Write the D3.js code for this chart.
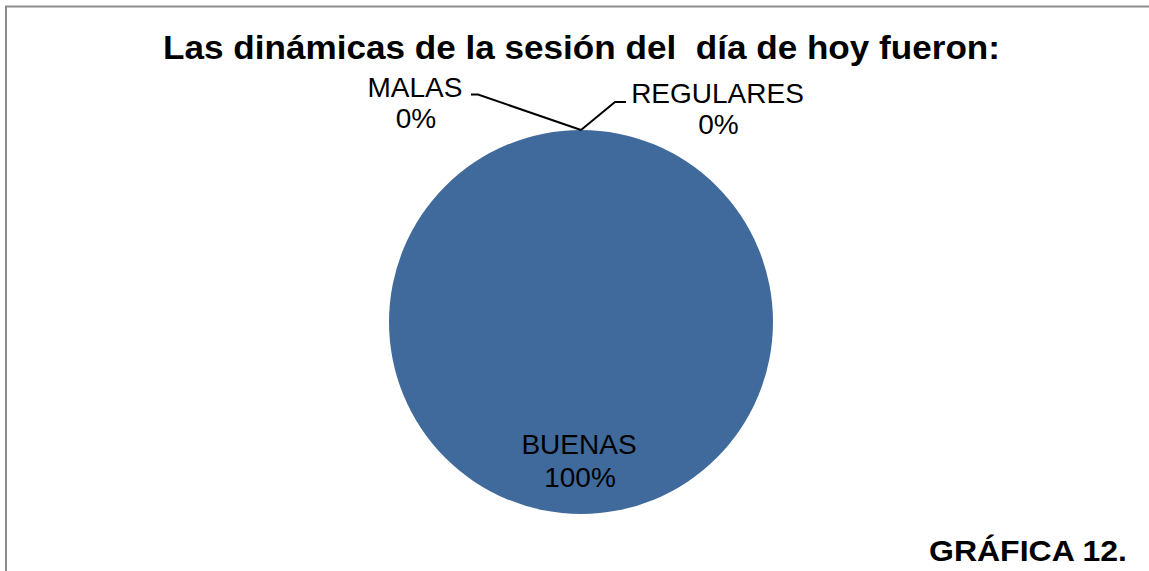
<!DOCTYPE html>
<html>
<head>
<meta charset="utf-8">
<script src="https://cdn.jsdelivr.net/npm/d3@7"></script>
<style>
  body { margin: 0; background: #fff; }
  svg { display: block; font-family: Arial, "Liberation Sans", sans-serif; }
</style>
</head>
<body>
<div id="chart"></div>
<script>
const categories = ["BUENAS", "REGULARES", "MALAS"];
const values = [100, 0, 0];
const colors = ["#416a9c", "#a0413e", "#86a44a"];

const width = 1149, height = 571;
const cx = 581, cy = 322, radius = 192;

const svg = d3.select("#chart").append("svg")
    .attr("width", width)
    .attr("height", height);

// frame (only top and left edges visible)
svg.append("path")
    .attr("d", "M6,571 L6,6.5 L1149,6.5")
    .attr("fill", "none")
    .attr("stroke", "#8c8c8c")
    .attr("stroke-width", 2);

svg.append("text")
    .attr("x", 163)
    .attr("y", 59)
    .attr("textLength", 837)
    .attr("lengthAdjust", "spacingAndGlyphs")
    .style("font-size", "33px")
    .style("font-weight", "bold")
    .style("white-space", "pre")
    .text("Las dinámicas de la sesión del  día de hoy fueron:");

const data = categories.map((c, i) => ({ name: c, value: values[i], color: colors[i] }));

const pie = d3.pie().sort(null).value(d => d.value);
const arc = d3.arc().innerRadius(0).outerRadius(radius);
const arcs = pie(data);

const g = svg.append("g").attr("transform", `translate(${cx},${cy})`);

g.selectAll("path.slice")
  .data(arcs)
  .enter().append("path")
    .attr("class", "slice")
    .attr("d", arc)
    .attr("fill", d => d.data.color);

const total = d3.sum(values);
const pct = v => Math.round(v / total * 100) + "%";

// label placements relative to pie centre; zero slices get leader lines
const labelPos = {
  BUENAS:    { x: -2,    y: 132,  dy: 33 },
  REGULARES: { x: 136.5, y: -219, dy: 31, elbow: [34, -220], end: [45, -220] },
  MALAS:     { x: -166,  y: -225, dy: 31, elbow: [-103, -227.5], end: [-110, -227.5] }
};

arcs.forEach(a => {
  const p = labelPos[a.data.name];
  if (a.value === 0) {
    const ang = a.startAngle;
    const ax = Math.sin(ang) * radius, ay = -Math.cos(ang) * radius;
    g.append("polyline")
        .attr("points", [[ax, ay], p.elbow, p.end].map(q => q.join(",")).join(" "))
        .attr("fill", "none")
        .attr("stroke", "#000")
        .attr("stroke-width", 2);
  }
  const t = g.append("text")
      .attr("text-anchor", "middle")
      .style("font-size", "28px")
      .attr("fill", "#000");
  t.append("tspan").attr("x", p.x).attr("y", p.y).text(a.data.name);
  t.append("tspan").attr("x", p.x + 1).attr("y", p.y + p.dy).text(pct(a.value));
});

svg.append("text")
    .attr("x", 929)
    .attr("y", 561)
    .attr("textLength", 198)
    .attr("lengthAdjust", "spacingAndGlyphs")
    .style("font-size", "30px")
    .style("font-weight", "bold")
    .text("GRÁFICA 12.");
</script>
</body>
</html>
